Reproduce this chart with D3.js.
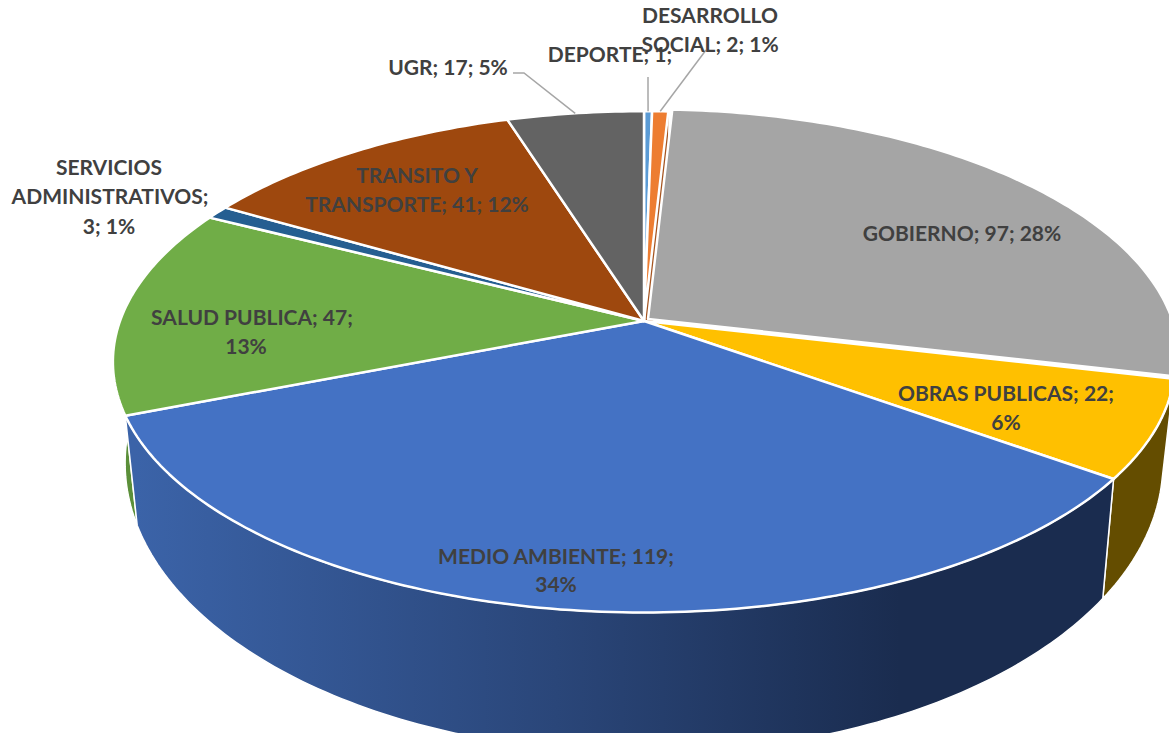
<!DOCTYPE html>
<meta charset="utf-8">
<style>
  body { margin: 0; background: #fff; }
  text { font-family: Lato, "Open Sans", sans-serif; font-weight: 700; font-size: 21px; fill: #404040; text-anchor: middle; }
</style>

<!-- Load d3.js -->
<script src="https://d3js.org/d3.v7.min.js"></script>

<div id="my_dataviz"></div>
<script>

// data
var categories = ["DEPORTE", "DESARROLLO SOCIAL", "GOBIERNO", "OBRAS PUBLICAS", "MEDIO AMBIENTE", "SALUD PUBLICA", "SERVICIOS ADMINISTRATIVOS", "TRANSITO Y TRANSPORTE", "UGR"];
var values = [1, 2, 97, 22, 119, 47, 3, 41, 17];
var colors = ["#5b9bd5", "#ed7d31", "#a5a5a5", "#ffc000", "#4472c4", "#70ad47", "#255e91", "#9e480e", "#636363"];
var wallColors = ["#3c6d9b", "#a5541f", "#636363", "#644d00", "url(#wallBlue)", "#5b8f39", "#1a4468", "#6d320a", "#424242"];

// label text, one entry per line, with where each line sits
var labelLines = ["DESARROLLO", "SOCIAL; 2; 1%", "DEPORTE; 1;", "UGR; 17; 5%", "SERVICIOS", "ADMINISTRATIVOS;", "3; 1%", "TRANSITO Y", "TRANSPORTE; 41; 12%", "GOBIERNO; 97; 28%", "OBRAS PUBLICAS; 22;", "6%", "MEDIO AMBIENTE; 119;", "34%", "SALUD PUBLICA; 47;", "13%"];
var labelX = [710, 710, 610, 448, 109, 110, 109, 417, 417, 962, 1006, 1006, 556, 556, 252, 246];
var labelY = [23, 52, 62, 75, 175, 204, 234, 183, 212, 241, 401, 430, 564, 592, 325, 354];

var width = 1169, height = 733;

// perspective of the disc
var cx = 644, cy = 321, rx = 524, ry = 244, persp = 0.163;
// the floor of the pie, relative to the top face
var floorX = 0.977, floorY = 1.156, floorBase = 416;
var gobiernoShift = {x: 4, y: -2};

var svg = d3.select("#my_dataviz")
  .append("svg")
    .attr("width", width)
    .attr("height", height)
    .style("display", "block");

var grad = svg.append("defs").append("linearGradient")
    .attr("id", "wallBlue")
    .attr("gradientUnits", "userSpaceOnUse")
    .attr("x1", 136).attr("x2", 900)
    .attr("y1", 0).attr("y2", 0);
grad.append("stop").attr("offset", 0).attr("stop-color", "#3b63a8");
grad.append("stop").attr("offset", 0.55).attr("stop-color", "#2a4679");
grad.append("stop").attr("offset", 1).attr("stop-color", "#1a2c4f");

function topPoint(a, r) {
  var X = Math.sin(a) * r, Y = -Math.cos(a) * r, w = 1 - persp * Y;
  return [cx + rx * X / w, cy + ry * Y / w];
}
function floorPoint(a, r) {
  var p = topPoint(a, r);
  return [cx + floorX * (p[0] - cx), floorBase + floorY * (p[1] - cy)];
}

var pie = d3.pie().sort(null).value(function(d) { return d; });
var arcs = pie(values);
var line = d3.line();

function anglesBetween(a0, a1) {
  var n = Math.max(2, Math.ceil((a1 - a0) * 60));
  return d3.range(n + 1).map(function(i) {
    return a0 + (a1 - a0) * i / n;
  });
}
function shiftOf(i) {
  return categories[i] === "GOBIERNO" ? gobiernoShift : {x: 0, y: 0};
}
function wallPath(i) {
  var d = arcs[i];
  // the pulled out slice only shows the last bit of its wall, past the gap
  var a0 = categories[i] === "GOBIERNO" ? d.endAngle - 0.05 : d.startAngle;
  var as = anglesBetween(a0, d.endAngle);
  var pts = as.map(function(a) { return topPoint(a, 1); })
    .concat(as.slice().reverse().map(function(a) { return floorPoint(a, 1); }));
  return line(pts) + "Z";
}
function facePath(d) {
  var pts = anglesBetween(d.startAngle, d.endAngle).map(function(a) { return topPoint(a, 1); });
  pts.unshift([cx, cy]);
  return line(pts) + "Z";
}
function depthOf(d) {
  return -Math.cos((d.startAngle + d.endAngle) / 2);
}

// walls, back to front
var wallOrder = arcs.map(function(d, i) { return i; })
  .sort(function(a, b) { return depthOf(arcs[a]) - depthOf(arcs[b]); });

svg.append("g").selectAll("path")
  .data(wallOrder)
  .enter()
  .append("path")
    .attr("d", wallPath)
    .attr("transform", function(i) { return "translate(" + shiftOf(i).x + "," + shiftOf(i).y + ")"; })
    .attr("fill", function(i) { return wallColors[i]; })
    .attr("stroke", "#fff")
    .attr("stroke-width", 1.5)
    .attr("stroke-linejoin", "round");

// cut side of the orange slice, seen through the gap next to GOBIERNO
var orangeEnd = arcs[1].endAngle;
svg.append("path")
  .attr("d", line([[cx, cy], topPoint(orangeEnd, 1), floorPoint(orangeEnd, 1), [cx, floorBase]]) + "Z")
  .attr("fill", wallColors[1]);

// top faces
svg.append("g").selectAll("path")
  .data(arcs)
  .enter()
  .append("path")
    .attr("d", facePath)
    .attr("transform", function(d, i) { return "translate(" + shiftOf(i).x + "," + shiftOf(i).y + ")"; })
    .attr("fill", function(d, i) { return colors[i]; })
    .attr("stroke", "#fff")
    .attr("stroke-width", 2.5)
    .attr("stroke-linejoin", "round");

// leader lines for the outside labels
function midAngle(name) {
  var d = arcs[categories.indexOf(name)];
  return (d.startAngle + d.endAngle) / 2;
}
var leaders = [
  {from: [[513, 73], [524, 73]], to: "UGR"},
  {from: [[648, 77]], to: "DEPORTE"},
  {from: [[706, 50]], to: "DESARROLLO SOCIAL"}
];
svg.append("g").selectAll("path")
  .data(leaders)
  .enter()
  .append("path")
    .attr("d", function(d) { return line(d.from.concat([topPoint(midAngle(d.to), 1)])); })
    .attr("fill", "none")
    .attr("stroke", "#a6a6a6")
    .attr("stroke-width", 1.5);

// labels
svg.append("g").selectAll("text")
  .data(labelLines)
  .enter()
  .append("text")
    .attr("x", function(d, i) { return labelX[i]; })
    .attr("y", function(d, i) { return labelY[i]; })
    .text(function(d) { return d; });

</script>
